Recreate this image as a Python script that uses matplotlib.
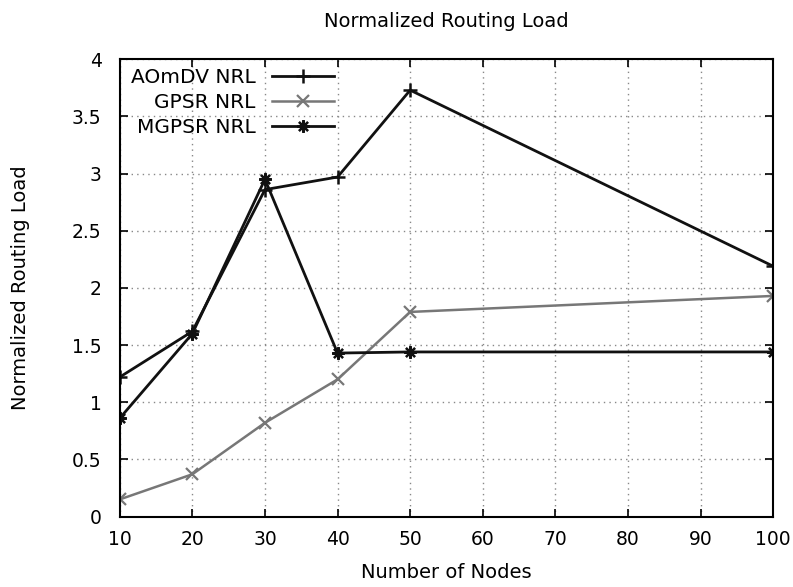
"""
Normalized Routing Load 对比图 (AOmDV / GPSR / MGPSR)
"""
import matplotlib
matplotlib.use('Agg')
import matplotlib.pyplot as plt

plt.rcParams['font.family'] = ['DejaVu Sans']

# 数据
nodes = [10, 20, 30, 40, 50, 100]
aomdv_nrl = [1.22, 1.62, 2.86, 2.97, 3.73, 2.19]
gpsr_nrl = [0.15, 0.37, 0.82, 1.20, 1.79, 1.93]
mgpsr_nrl = [0.86, 1.60, 2.95, 1.43, 1.44, 1.44]

x_ticks = [10, 20, 30, 40, 50, 60, 70, 80, 90, 100]
y_ticks = [0, 0.5, 1, 1.5, 2, 2.5, 3, 3.5, 4]
y_ticklabels = ['0', '0.5', '1', '1.5', '2', '2.5', '3', '3.5', '4']

fig = plt.figure(figsize=(7.93, 5.87), dpi=100)
ax = fig.add_axes([0.151, 0.120, 0.824, 0.779])

asterisk = (8, 2, 0)
ax.plot(nodes, aomdv_nrl, color='#111111', linewidth=2.0, marker='+',
        markersize=10, markeredgewidth=1.8, label='AOmDV NRL')
ax.plot(nodes, gpsr_nrl, color='#777777', linewidth=1.8, marker='x',
        markersize=8, markeredgewidth=1.6, label='GPSR NRL')
ax.plot(nodes, mgpsr_nrl, color='#111111', linewidth=2.0, marker=asterisk,
        markersize=9, markeredgewidth=1.6, label='MGPSR NRL')

ax.set_xlim(10, 100)
ax.set_ylim(0, 4)
ax.set_xticks(x_ticks)
ax.set_yticks(y_ticks)
ax.set_yticklabels(y_ticklabels)
ax.tick_params(direction='in', top=True, right=True, length=6, width=1.2,
               labelsize=13.5)
ax.tick_params(axis='x', pad=10)
ax.tick_params(axis='y', pad=13)
ax.grid(True, linestyle=(0, (1, 3)), color='#888888', linewidth=1.0)
for s in ax.spines.values():
    s.set_linewidth(1.5)

ax.set_xlabel('Number of Nodes', fontsize=14, labelpad=10)
ax.set_ylabel('Normalized Routing Load', fontsize=14, labelpad=30)
ax.set_title('Normalized Routing Load', fontsize=14, pad=23)

leg = ax.legend(loc='upper left', markerfirst=False, frameon=False,
                fontsize=14.5, handlelength=3.1, labelspacing=0.3,
                handletextpad=0.8, borderaxespad=0.0, borderpad=0.3,
                bbox_to_anchor=(0.008, 0.995))

fig.savefig('out.png', dpi=100)
